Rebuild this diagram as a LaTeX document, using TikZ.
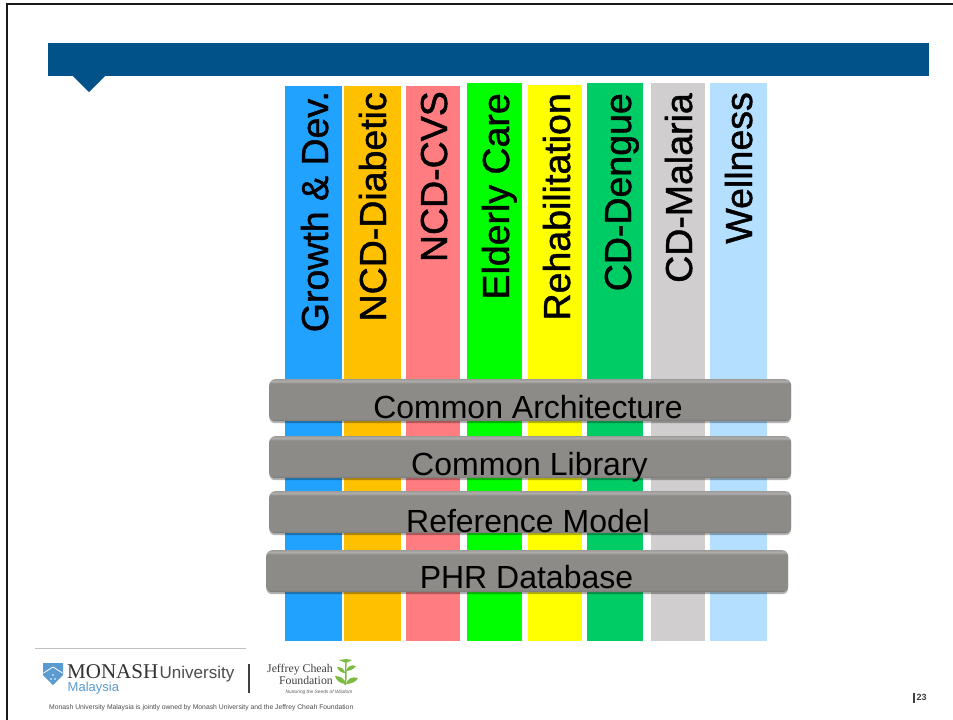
\documentclass[tikz,border=0pt]{standalone}
\usepackage{fontspec}
\setmainfont{Liberation Sans}
\newfontfamily\serifname{Liberation Serif}
\newfontfamily\barfont[FakeBold=1.2]{Liberation Sans}
\usetikzlibrary{positioning}
\usetikzlibrary{shadows}
\usetikzlibrary{calc}

\definecolor{headerblue}{HTML}{005288}
\definecolor{barblue}{HTML}{22A2FF}
\definecolor{barorange}{HTML}{FFC000}
\definecolor{barsalmon}{HTML}{FF7C80}
\definecolor{bargreen}{HTML}{00FF00}
\definecolor{baryellow}{HTML}{FFFF00}
\definecolor{barteal}{HTML}{00CC66}
\definecolor{bargray}{HTML}{D0CECE}
\definecolor{barsky}{HTML}{B4DFFF}
\definecolor{monashblue}{HTML}{5B9BD0}
\definecolor{leafgreen}{HTML}{7DBB42}
\definecolor{layergray}{HTML}{8C8B88}

\pgfdeclareverticalshading{bevelshade}{100bp}{
  color(0bp)=(layergray!85!black);
  color(25bp)=(layergray!85!black);
  color(28bp)=(layergray);
  color(70bp)=(layergray);
  color(72.5bp)=(layergray!70!white);
  color(75bp)=(layergray!85);
  color(100bp)=(layergray!85)}

\tikzset{
  barbox/.style={anchor=north west, inner sep=0pt, outer sep=0pt},
  bartext/.style={rotate=90, anchor=base east, inner sep=0pt, font=\fontsize{37.5}{38}\barfont\selectfont, text=black},
  layerbox/.style={anchor=north west, inner sep=0pt, rounded corners=6pt, shading=bevelshade,
    drop shadow={shadow xshift=0pt, shadow yshift=-2pt, fill=black, opacity=0.3},
    minimum height=42pt, minimum width=522pt},
  layertext/.style={anchor=base, inner sep=0pt, font=\fontsize{32}{32}\selectfont, text=black}
}

\begin{document}
\begin{tikzpicture}[x=1pt,y=-1pt]
    \useasboundingbox (0,0) rectangle (953,720);
    \fill[white] (0,0) rectangle (953,720);

    % Page edge
    \draw[black!90, line width=2pt] (7,720) -- (7,4) -- (953,4);

    % Header band
    \fill[headerblue] (48,43) rectangle (929,76);
    \fill[headerblue] (73,76) -- (105,76) -- (89,92) -- cycle;

    % Draw the coloured columns
    \foreach \name/\xa/\xb/\ya/\xt/\yt/\col/\txt in {
        growth/285/342/86/328/91/barblue/{Growth \& Dev.},
        diabetic/344/401/86/386/92/barorange/NCD-Diabetic,
        cvs/406/460/86/447/91/barsalmon/NCD-CVS,
        elderly/467/522/83/509/93/bargreen/Elderly Care,
        rehab/528/582/85/570/93/baryellow/Rehabilitation,
        dengue/587/643/83/631/93/barteal/CD-Dengue,
        malaria/651/705/83/692/93/bargray/CD-Malaria,
        wellness/710/767/83/752/92/barsky/Wellness}
    {
        \pgfmathsetmacro{\barw}{\xb-\xa}
        \pgfmathsetmacro{\barh}{641-\ya}
        \node[barbox, fill=\col, minimum width=\barw pt, minimum height=\barh pt] (\name) at (\xa,\ya) {};
        \node[bartext] (\name text) at (\xt,\yt) {\txt};
    }

    % Draw the common layers
    \foreach \name/\xa/\ya/\xt/\yt/\txt in {
        arch/269/379/528/418/Common Architecture,
        library/269/436/529.5/475/Common Library,
        refmodel/269/491/528/532/Reference Model,
        phr/266/550/526.5/588/PHR Database}
    {
        \node[layerbox] (\name) at (\xa,\ya) {};
        \node[layertext] (\name text) at (\xt,\yt) {\txt};
    }

    % Footer rule and logos
    \draw[black!25, line width=0.7pt] (35,648.5) -- (246,648.5);
    \fill[monashblue] (43,663) -- (63,663) -- (63,675) -- (53,685) -- (43,675) -- cycle;
    \draw[white, line width=0.8pt] (43.5,673) -- (53,667) -- (62.5,673);
    \fill[white] (51,679) circle (0.8pt) (55,679) circle (0.8pt) (53,675) circle (0.8pt);
    \node[anchor=base west, inner sep=0pt, text=black!80, font=\fontsize{21}{21}\serifname\selectfont] (monash) at (67,678) {MONASH};
    \node[anchor=base west, inner sep=0pt, text=black!70, font=\fontsize{17}{18}\selectfont] (university) at (159.5,678) {University};
    \node[anchor=west, inner sep=0pt, text=monashblue, font=\fontsize{13}{13}\selectfont] (malaysia) at (67.5,688) {Malaysia};
    \draw[black!75, line width=1.6pt] (249,664) -- (249,693);
    \node[anchor=north east, inner sep=0pt, align=right, text=black!75, font=\fontsize{11.8}{12}\serifname\selectfont] (jeffrey) at (333,664)
        {Jeffrey Cheah\\Foundation};
    \node[anchor=north, inner sep=0pt, text=black!65, font=\fontsize{4.8}{5}\selectfont\itshape] (nurture) at (319,690) {Nurturing the Seeds of Wisdom};

    % Small plant
    \draw[leafgreen, line width=1.4pt] (345,685) .. controls (347,676) and (345,670) .. (346,663);
    \fill[leafgreen] (346,684) .. controls (340,684) and (336,680) .. (335,676) .. controls (341,676) and (345,679) .. (346,684);
    \fill[leafgreen] (346,684) .. controls (351,684) and (356,682) .. (358,678) .. controls (352,676) and (347,679) .. (346,684);
    \fill[leafgreen] (345,673) .. controls (341,673) and (338,670) .. (337,667) .. controls (341,667) and (345,669) .. (345,673);
    \fill[leafgreen] (346,671) .. controls (350,671) and (354,669) .. (356,666) .. controls (351,664) and (347,667) .. (346,671);
    \fill[leafgreen] (339,660) -- (346,659) -- (352,660) -- (346,663) -- cycle;

    \node[anchor=west, inner sep=0pt, text=black!70, font=\fontsize{6.8}{7}\selectfont] (owned) at (49,707.5)
        {Monash University Malaysia is jointly owned by Monash University and the Jeffrey Cheah Foundation};

    % Page number
    \draw[black!75, line width=1.6pt] (914,693) -- (914,703);
    \node[anchor=west, inner sep=0pt, text=black!75, font=\fontsize{9}{9}\selectfont\bfseries] (pagenum) at (916.5,697.5) {23};
\end{tikzpicture}
\end{document}
